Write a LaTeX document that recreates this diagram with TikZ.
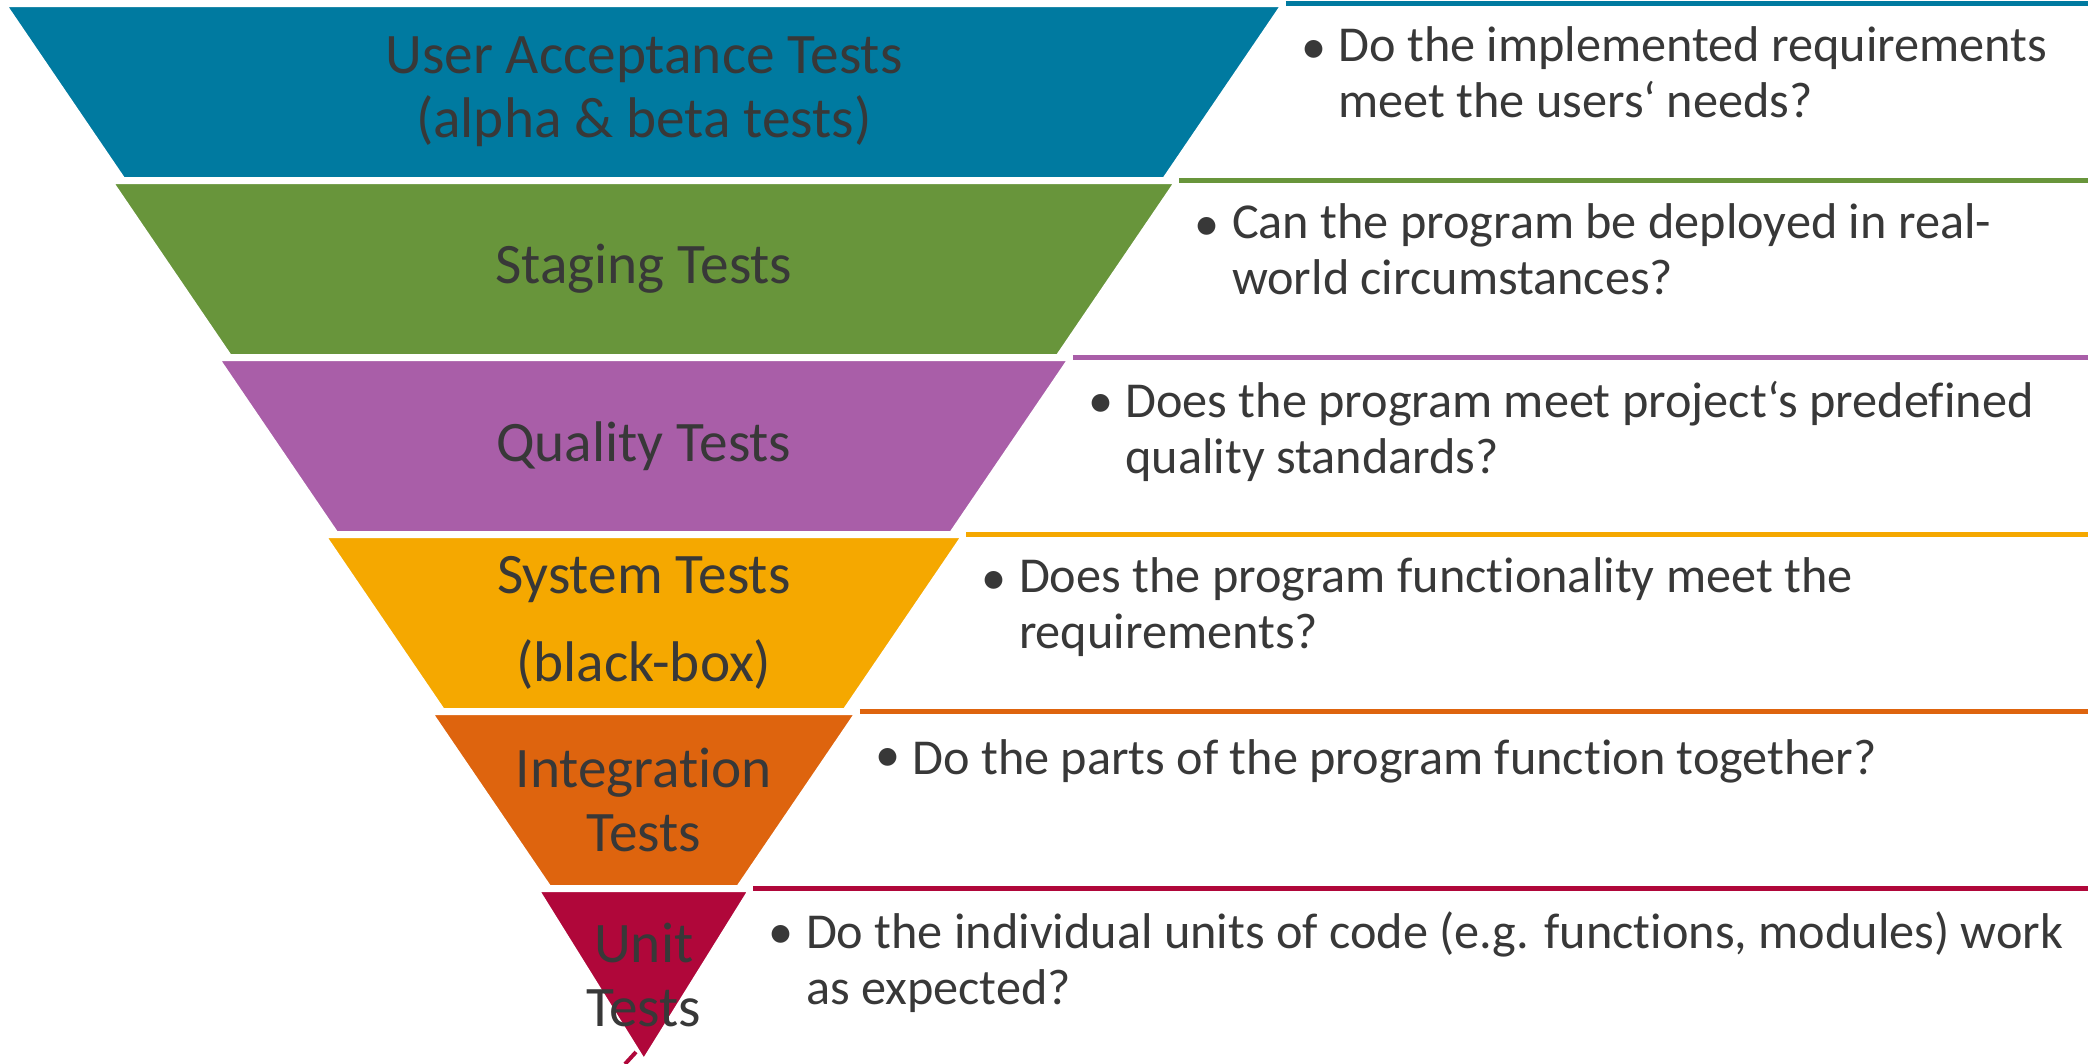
\documentclass[tikz,border=0pt]{standalone}
\usepackage{fontspec}
\setmainfont{Carlito}[Ligatures={NoCommon}]
\usetikzlibrary{positioning, calc}

\definecolor{uatblue}{RGB}{0,122,160}
\definecolor{staginggreen}{RGB}{104,149,59}
\definecolor{qualitypurple}{RGB}{169,94,168}
\definecolor{systemyellow}{RGB}{245,168,0}
\definecolor{integrationorange}{RGB}{222,100,14}
\definecolor{unitred}{RGB}{176,7,58}
\definecolor{labelgray}{RGB}{56,56,56}

\begin{document}
\begin{tikzpicture}[
    x=0.1mm, y=-0.1mm,
    level/.style={draw=white, line width=0.2mm},
    levellabel/.style={
      font=\fontsize{16.3}{18.2}\selectfont, text=labelgray,
      align=center, inner sep=0pt
    },
    bulletmark/.style={
      font=\fontsize{14.3}{15.9}\selectfont, text=labelgray,
      inner sep=0pt, anchor=base
    },
    question/.style={
      font=\fontsize{14.3}{15.9}\selectfont, text=labelgray,
      align=left, inner sep=0pt, anchor=north west,
      execute at begin node=\strut
    },
    toprule/.style={line width=0.5mm},
  ]

  \useasboundingbox (0,0) rectangle (2088,1063);

  %% ---- funnel levels (axis at x = 643.8) ----
  \fill[level, fill=uatblue]
    (6.8,6) -- (1280.8,6) -- (1163.8,178) -- (123.8,178) -- cycle;
  \fill[level, fill=staginggreen]
    (113.3,183) -- (1174.3,183) -- (1057.3,355) -- (230.3,355) -- cycle;
  \fill[level, fill=qualitypurple]
    (219.8,360) -- (1067.8,360) -- (950.8,532) -- (336.8,532) -- cycle;
  \fill[level, fill=systemyellow]
    (326.3,537) -- (961.3,537) -- (844.3,709) -- (443.3,709) -- cycle;
  \fill[level, fill=integrationorange]
    (432.8,714) -- (854.8,714) -- (737.8,886) -- (549.8,886) -- cycle;
  \fill[level, fill=unitred]
    (539.3,891) -- (748.3,891) -- (643.8,1059) -- cycle;
  % stray stroke under the tip
  \draw[unitred, line width=0.4mm] (625,1064) -- (636,1052);

  %% ---- level labels ----
  \node[levellabel] (uat) at (643.8,92)
    {User Acceptance Tests\\(alpha \& beta tests)};
  \node[levellabel] (staging) at (643.8,269) {Staging Tests};
  \node[levellabel] (quality) at (643.8,446) {Quality Tests};
  \node[levellabel] (system) at (643.8,623)
    {System Tests\\[7pt](black-box)};
  \node[levellabel] (integration) at (643.8,800) {Integration\\Tests};
  \node[levellabel] (unit) at (643.8,975) {Unit\\Tests};

  %% ---- coloured rules on the right ----
  \coordinate (r1) at (1285.8,3.5);  \coordinate (r1e) at (2088,3.5);
  \coordinate (r2) at (1179.3,180.5); \coordinate (r2e) at (2088,180.5);
  \coordinate (r3) at (1072.8,357.5); \coordinate (r3e) at (2088,357.5);
  \coordinate (r4) at (966.3,534.5);  \coordinate (r4e) at (2088,534.5);
  \coordinate (r5) at (859.8,711.5);  \coordinate (r5e) at (2088,711.5);
  \coordinate (r6) at (753.3,888.5);  \coordinate (r6e) at (2088,888.5);

  \draw[toprule, uatblue]           (r1) -- (r1e);
  \draw[toprule, staginggreen]      (r2) -- (r2e);
  \draw[toprule, qualitypurple]     (r3) -- (r3e);
  \draw[toprule, systemyellow]      (r4) -- (r4e);
  \draw[toprule, integrationorange] (r5) -- (r5e);
  \draw[toprule, unitred]           (r6) -- (r6e);

  %% ---- questions (bullet + text below each rule) ----
  \node[bulletmark] (b1) at ($(r1)+(28,60)$) {\textbullet};
  \node[question]   (q1) at ($(r1)+(52,22.7)$)
    {Do the implemented requirements\\meet the users‘ needs?};

  \node[bulletmark] (b2) at ($(r2)+(28,60)$) {\textbullet};
  \node[question]   (q2) at ($(r2)+(52,22.7)$)
    {Can the program be deployed in real-\\world circumstances?};

  \node[bulletmark] (b3) at ($(r3)+(28,60)$) {\textbullet};
  \node[question]   (q3) at ($(r3)+(52,22.7)$)
    {Does the program meet project‘s predefined\\quality standards?};

  \node[bulletmark] (b4) at ($(r4)+(28,60)$) {\textbullet};
  \node[question]   (q4) at ($(r4)+(52,22.7)$)
    {Does the program functionality meet the\\requirements?};

  \node[bulletmark] (b5) at ($(r5)+(28,60)$) {\textbullet};
  \node[question]   (q5) at ($(r5)+(52,22.7)$)
    {Do the parts of the program function together?};

  \node[bulletmark] (b6) at ($(r6)+(28,60)$) {\textbullet};
  \node[question]   (q6) at ($(r6)+(52,22.7)$)
    {Do the individual units of code (e.g. functions, modules) work\\as expected?};

\end{tikzpicture}
\end{document}
